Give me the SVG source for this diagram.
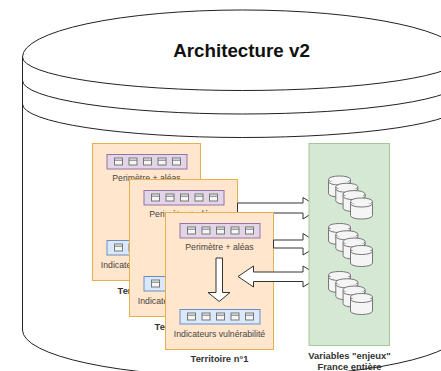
<svg xmlns="http://www.w3.org/2000/svg" xmlns:xlink="http://www.w3.org/1999/xlink" width="441" height="371" viewBox="0 0 441 371">
<style>
.ln{fill:none;stroke:#222;stroke-width:1}
.card{fill:#ffe6cc;stroke:#e6b04a;stroke-width:1}
.per{fill:#e1d5e7;stroke:#9673a6;stroke-width:1}
.ind{fill:#dae8fc;stroke:#6c8ebf;stroke-width:1}
.ic{fill:#f5f5f5;stroke:#777;stroke-width:1}
.db{fill:#f5f5f5;stroke:#777;stroke-width:1}
.arr{fill:#fff;stroke:#333;stroke-width:1}
text{font-family:"Liberation Sans",Arial,sans-serif;text-anchor:middle}
.s{font-size:8.7px;fill:#444}
.b{font-size:9.4px;font-weight:bold;fill:#333}
</style>
<defs>
<g id="icons">
<g id="i"><rect class="ic" x="0" y="0" width="8" height="7"/><path class="ic" d="M0 2.200H8"/></g>
<use xlink:href="#i" x="14.500"/><use xlink:href="#i" x="29"/><use xlink:href="#i" x="43.500"/><use xlink:href="#i" x="58"/>
</g>
<g id="cyl"><path class="db" d="M0 3.500C0 -1.200 22 -1.200 22 3.500V17.500C22 22.200 0 22.200 0 17.500Z"/><path class="db" d="M0 3.500C0 8.200 22 8.200 22 3.500"/><path class="db" d="M0 5.500C0 10.200 22 10.200 22 5.500"/></g>
<g id="stack"><use xlink:href="#cyl"/><use xlink:href="#cyl" x="7.300" y="7.300"/><use xlink:href="#cyl" x="14.600" y="14.600"/><use xlink:href="#cyl" x="22" y="22"/></g>
<g id="card">
<rect class="card" x="0" y="0" width="108" height="137"/>
<rect class="per" x="14.500" y="11" width="80" height="14.500"/>
<use xlink:href="#icons" x="22" y="14.500"/>
<text class="s" x="54" y="37">Perimètre + aléas</text>
<rect class="ind" x="14.500" y="97" width="80" height="14.500"/>
<use xlink:href="#icons" x="22" y="100.500"/>
<text class="s" x="54" y="124">Indicateurs vulnérabilité</text>
</g>
</defs>
<g id="cylinder">
<path d="M22.500 57A220 47 0 0 1 462.500 57V330A220 47 0 0 1 22.500 330Z" fill="#fff" stroke="#222"/>
<path class="ln" d="M22.500 57A220 33.500 0 0 0 462.500 57"/>
<path class="ln" d="M22.500 80.500A220 33.500 0 0 0 462.500 80.500"/>
<path class="ln" d="M22.500 104A220 33.500 0 0 0 462.500 104"/>
<text x="241.500" y="56.500" font-size="18.800" font-weight="bold" fill="#111">Architecture v2</text>
</g>
<g id="territoire-3">
<text class="b" x="146.500" y="294">Territoire n°3</text>
<use xlink:href="#card" x="92.500" y="143.500"/>
</g>
<g id="territoire-2">
<text class="b" x="183.500" y="330">Territoire n°2</text>
<use xlink:href="#card" x="129.500" y="179.500"/>
</g>
<g id="connectors">
<path class="arr" d="M237.500 203H303V197.500L320 208L303 219V213H237.500Z"/>
</g>
<g id="territoire-1">
<text class="b" x="219.500" y="362">Territoire n°1</text>
<use xlink:href="#card" x="165.500" y="212.500"/>
</g>
<g id="connectors-2">
<path class="arr" d="M273.500 240H303V233.500L320 244.500L303 255V248H273.500Z"/>
<path class="arr" d="M238 276.500L253.500 266V272H303V266L320 276.500L303 287V281.500H253.500V287Z"/>
<path class="arr" d="M216 258H222.500V292.500H230L219.200 301.500L208 292.500H216Z"/>
</g>
<g id="variables">
<rect x="309" y="143.500" width="80.500" height="202" fill="#d5e8d4" stroke="#a3c795"/>
<use xlink:href="#stack" x="328.500" y="176"/>
<use xlink:href="#stack" x="328.500" y="223.500"/>
<use xlink:href="#stack" x="328.500" y="271.500"/>
<text class="b" x="349.500" y="359">Variables "enjeux"</text>
<text class="b" x="349.500" y="370">France entière</text>
</g>
</svg>
